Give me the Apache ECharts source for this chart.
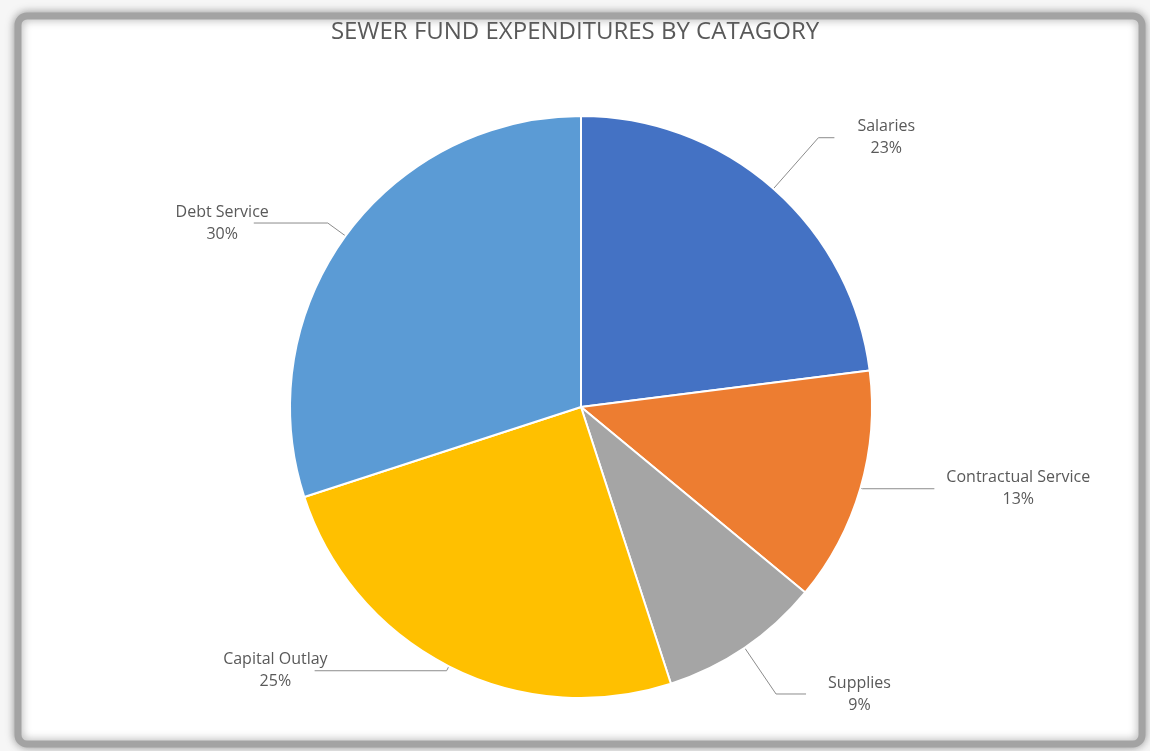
<!DOCTYPE html>
<html>
<head>
<meta charset="utf-8">
<script src="https://cdn.jsdelivr.net/npm/echarts@6/dist/echarts.min.js"></script>
<style>
html,body{margin:0;padding:0;background:#f6f6f6;}
#c{width:1150px;height:751px;}
</style>
</head>
<body>
<div id="c"></div>
<script>
// ---- data ----
var categories = ['Salaries', 'Contractual Service', 'Supplies', 'Capital Outlay', 'Debt Service'];
var values = [23, 13, 9, 25, 30];
var colors = ['#4472C4', '#ED7D31', '#A5A5A5', '#FFC000', '#5B9BD5'];
var titleText = 'SEWER FUND EXPENDITURES BY CATAGORY';

// label leader-line settings per slice (styling only)
var leader = [
  { length: 68, length2: 16, dist: 23 },
  { length: 2, length2: 72, dist: 12 },
  { length: 56, length2: 30, dist: 22 },
  { length: 5, length2: 132, dist: -13 },
  { length: 22, length2: 74, dist: -15 }
];

var chart = echarts.init(document.getElementById('c'), null, { renderer: 'canvas' });

var pieData = categories.map(function (name, i) {
  return {
    name: name,
    value: values[i],
    itemStyle: { color: colors[i] },
    label: { distanceToLabelLine: leader[i].dist },
    labelLine: { length: leader[i].length, length2: leader[i].length2 }
  };
});

chart.setOption({
  backgroundColor: '#f6f6f6',
  animation: false,
  graphic: [{
    type: 'rect',
    z: -10,
    shape: { x: 18, y: 16, width: 1124, height: 728, r: 9 },
    style: {
      fill: '#ffffff',
      stroke: '#a3a3a3',
      lineWidth: 7,
      shadowBlur: 10,
      shadowColor: 'rgba(0,0,0,0.35)',
      shadowOffsetX: 0,
      shadowOffsetY: 0
    }
  }],
  title: {
    text: titleText,
    left: 'center',
    top: 15,
    textStyle: {
      fontFamily: 'Open Sans',
      fontSize: 24,
      fontWeight: 'normal',
      color: '#595959'
    }
  },
  series: [{
    type: 'pie',
    center: [581, 407],
    radius: 291,
    startAngle: 90,
    clockwise: true,
    avoidLabelOverlap: false,
    itemStyle: { borderColor: '#ffffff', borderWidth: 2 },
    label: {
      show: true,
      position: 'outside',
      formatter: function (p) { return p.name + '\n' + Math.round(p.percent) + '%'; },
      fontFamily: 'Open Sans',
      fontSize: 16,
      lineHeight: 22,
      color: '#595959'
    },
    labelLine: {
      show: true,
      lineStyle: { color: '#8c8c8c', width: 1 }
    },
    labelLayout: function (p) {
      var r = p.labelRect;
      return {
        x: r.x + r.width / 2,
        y: r.y + r.height / 2,
        align: 'center',
        verticalAlign: 'middle',
        labelLinePoints: p.labelLinePoints
      };
    },
    emphasis: { disabled: true },
    data: pieData
  }]
});
</script>
</body>
</html>
